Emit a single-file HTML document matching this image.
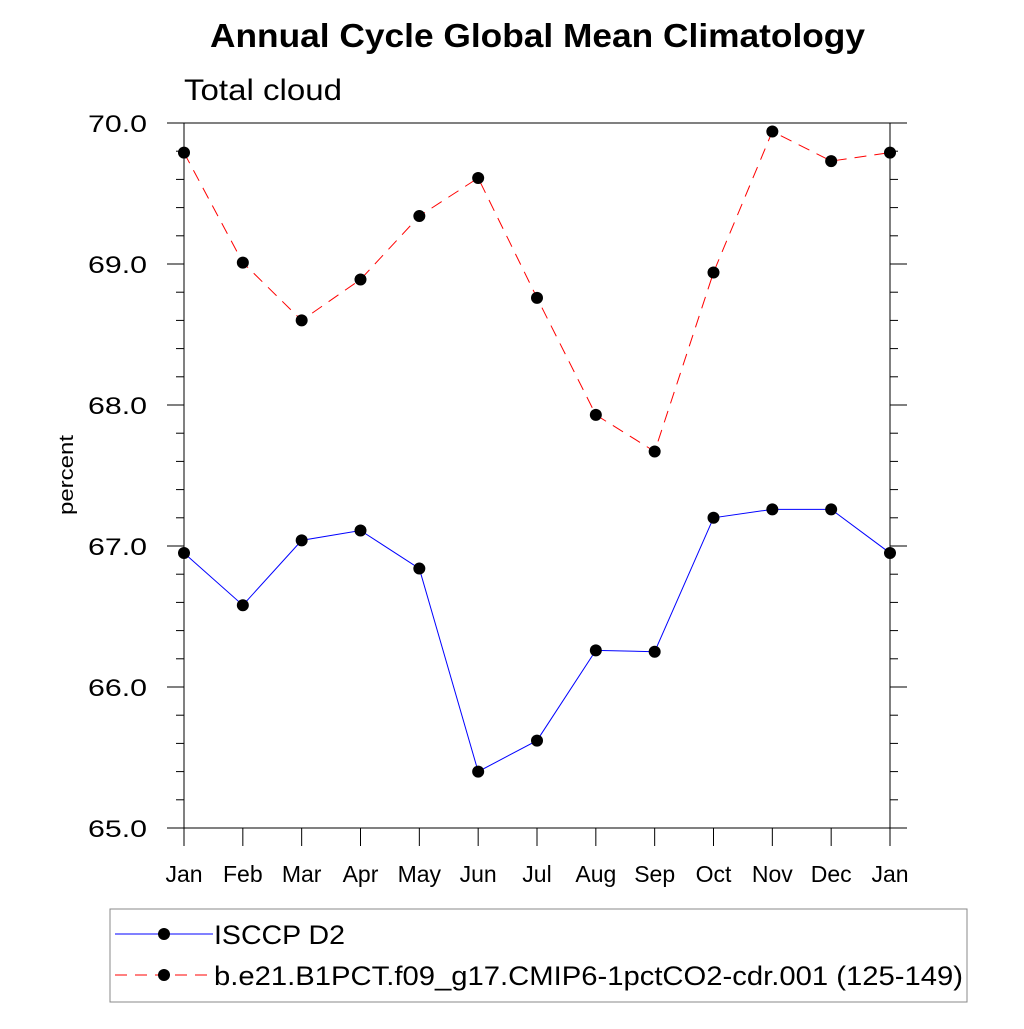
<!DOCTYPE html>
<html><head><meta charset="utf-8"><style>body{margin:0;background:#fff}svg{font-family:"Liberation Sans",sans-serif}</style></head>
<body>
<svg id="c" width="1024" height="1024" xmlns="http://www.w3.org/2000/svg">
<text x="210" y="47" textLength="655" lengthAdjust="spacingAndGlyphs" font-size="33" font-weight="bold">Annual Cycle Global Mean Climatology</text>
<text x="184" y="100" textLength="158" lengthAdjust="spacingAndGlyphs" font-size="30">Total cloud</text>
<text transform="translate(73,475) rotate(-90)" x="-40" textLength="80" lengthAdjust="spacingAndGlyphs" font-size="20">percent</text>
<g id="axes"></g><g id="series"></g>
<g>
<rect x="110" y="909" width="857" height="93" fill="none" stroke="#888" stroke-width="1"/>
<g><line x1="115" y1="934" x2="213" y2="934" stroke="#00f" stroke-width="1"/><circle cx="164" cy="934" r="6" fill="#000"/><text x="214" y="944" textLength="131" lengthAdjust="spacingAndGlyphs" font-size="27">ISCCP D2</text></g>
<g><line x1="115" y1="975" x2="213" y2="975" stroke="#f00" stroke-width="1" stroke-dasharray="12,8"/><circle cx="164" cy="975" r="6" fill="#000"/><text x="214" y="985" textLength="749" lengthAdjust="spacingAndGlyphs" font-size="27">b.e21.B1PCT.f09_g17.CMIP6-1pctCO2-cdr.001 (125-149)</text></g>
</g>
</svg>
<script>
const months=["Jan","Feb","Mar","Apr","May","Jun","Jul","Aug","Sep","Oct","Nov","Dec","Jan"];
const isccp=[66.95,66.58,67.04,67.11,66.84,65.40,65.62,66.26,66.25,67.20,67.26,67.26,66.95];
const model=[69.79,69.01,68.60,68.89,69.34,69.61,68.76,67.93,67.67,68.94,69.94,69.73,69.79];
const yTicks=[65,66,67,68,69,70];
const NS="http://www.w3.org/2000/svg";
const L=184,R=890,T=123,B=828,yMin=65,yMax=70;
const xs=i=>L+i*(R-L)/(months.length-1);
const ys=v=>B-(v-yMin)/(yMax-yMin)*(B-T);
function mk(t,a,p){const e=document.createElementNS(NS,t);for(const k in a)e.setAttribute(k,a[k]);p.appendChild(e);return e;}
const ax=document.getElementById('axes');
const box=mk('rect',{x:L,y:T,width:R-L,height:B-T,fill:'none',stroke:'#000','stroke-width':1},ax);


for(let v=yMin;v<=yMax+1e-9;v+=0.2){const y=ys(v);const maj=Math.abs(v-Math.round(v))<1e-6;const len=maj?17:8;
mk('line',{x1:L-len,y1:y,x2:L,y2:y,stroke:'#000'},ax);mk('line',{x1:R,y1:y,x2:R+len,y2:y,stroke:'#000'},ax);}
yTicks.forEach(v=>{const t=mk('text',{x:88,y:ys(v)+9,textLength:59,lengthAdjust:'spacingAndGlyphs','font-size':24},ax);t.textContent=v.toFixed(1);

});
months.forEach((m,i)=>{const x=xs(i);mk('line',{x1:x,y1:B,x2:x,y2:B+18,stroke:'#000'},ax);
const t=mk('text',{x:x,y:882,'text-anchor':'middle','font-size':23},ax);t.textContent=m;

});
const sg=document.getElementById('series');
function draw(d,col,dash,name){const g=mk('g',{},sg);


const a={points:d.map((v,i)=>xs(i)+','+ys(v)).join(' '),fill:'none',stroke:col,'stroke-width':1};if(dash)a['stroke-dasharray']=dash;mk('polyline',a,g);
d.forEach((v,i)=>{const c=mk('circle',{cx:xs(i),cy:ys(v),r:6,fill:'#000'},g);

});}
draw(isccp,'#00f',null,'series-isccp');
draw(model,'#f00','12,8','series-model');
</script>
</body></html>
